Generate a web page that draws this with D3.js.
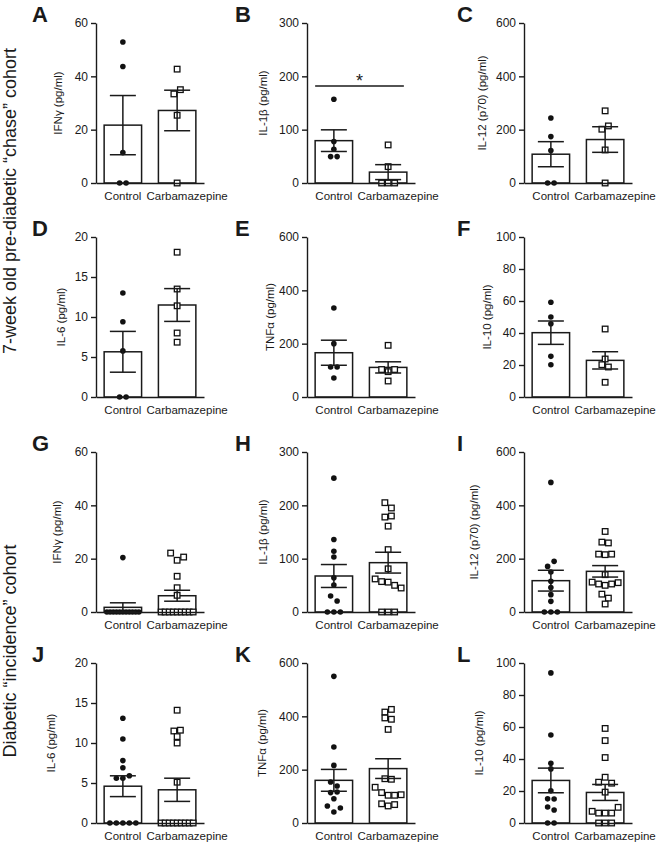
<!DOCTYPE html>
<html><head><meta charset="utf-8">
<script src="https://cdn.jsdelivr.net/npm/d3@7"></script>
<style>
body{margin:0;background:#fff}
svg{display:block}
text{font-family:"Liberation Sans",Arial,Helvetica,sans-serif;fill:#1a1a1a}
</style>
</head><body>
<svg id="chart" width="660" height="846"></svg>
<script>
// ---------------- DATA ----------------
const categories = ["Control", "Carbamazepine"];
const panelLetters = ["A","B","C","D","E","F","G","H","I","J","K","L"];
const yTitles = ["IFNγ (pg/ml)","IL-1β (pg/ml)","IL-12 (p70) (pg/ml)","IL-6 (pg/ml)","TNFα (pg/ml)","IL-10 (pg/ml)",
                 "IFNγ (pg/ml)","IL-1β (pg/ml)","IL-12 (p70) (pg/ml)","IL-6 (pg/ml)","TNFα (pg/ml)","IL-10 (pg/ml)"];
const yMaxes = [60,300,600,20,600,100, 60,300,600,20,600,100];
const yTickSteps = [20,100,200,5,200,20, 20,100,200,5,200,20];
const cohortLabels = ["7-week old pre-diabetic “chase” cohort", "Diabetic “incidence” cohort"];

const controlValues = [
  [52.9, 43.7, 11.4, 0, 0],
  [157, 77.7, 63.3, 49.5, 49.5],
  [244, 174, 121.5, 0, 0],
  [13, 9.4, 5.76, 0, 0],
  [333.75, 200, 112.5, 112.5, 71],
  [59.2, 50, 45.8, 25.4, 20.2],
  [20.4, 0,0,0,0,0,0,0,0,0,0,0],
  [251, 136, 103, 114, 64, 50.5, 30, 20.6, 0, 0, 0],
  [486, 171, 190, 150, 115, 92, 65, 40, 0, 0, 0],
  [13.1, 10.5, 7.8, 6.9, 5.6, 5.6, 5.9, 0,0,0,0,0],
  [550, 285, 216, 154, 139, 114, 116, 91, 64, 41, 56],
  [93.8, 55, 37.3, 33.8, 15.1, 15, 20.1, 10, 8.1, 0, 0]
];
const carbValues = [
  [42.7, 33.4, 35, 25.4, 0],
  [71.4, 30.7, 0, 0, 0],
  [270.6, 201.7, 214, 124, 0],
  [18.1, 13.5, 11.4, 8.0, 6.85],
  [193.75, 103, 95, 103, 60],
  [42.5, 23.75, 20.2, 18.75, 9.2],
  [22.1, 19.4, 20.6, 13.4, 9.1, 6.25, 0,0,0,0,0,0,0,0,0],
  [205, 195, 178, 180, 161, 117, 81, 62, 57, 56, 50, 45, 0, 0, 0],
  [302, 262, 259, 217, 215, 217, 140, 112, 105, 100, 105, 110, 67, 52, 30],
  [14.1, 11.5, 11.6, 10.8, 10.0, 5.1, 0,0,0,0,0,0,0,0,0],
  [416, 426, 394, 389, 351, 166, 164, 134, 114, 104, 104, 106, 72, 64, 69],
  [59.1, 51.5, 40.9, 25.5, 28.6, 24.9, 19.3, 7.3, 6.2, 6.2, 6.2, 9.8, 0, 0, 0]
];
const controlMeans = [21.7, 79.4, 108, 5.65, 166, 40.2, 1.75, 67.5, 117.5, 4.6, 160, 26.6];
const controlSEMs  = [11.1, 20.3, 47, 2.55, 47, 7.3, 1.7, 21.5, 39, 1.3, 41, 7.7];
const carbMeans    = [27.2, 20.4, 163, 11.5, 111, 22.9, 6.1, 92.5, 152.5, 4.15, 204, 19.1];
const carbSEMs     = [7.6, 14, 48, 2.05, 21, 5.4, 2.05, 19.5, 21.5, 1.45, 37, 5];
const sigPanelIndex = 1, sigLabel = "*", sigValue = 182;

// ---------------- LAYOUT ----------------
const colAxisX = [96, 307, 524];
const rowTop = [23, 237, 452, 663];
const letterX = [32, 235, 457];
const titleDx = [-38,-44,-42,-35,-37,-37,-39,-44,-50,-45,-45,-45];
const cohortPos = [[16, 201],[16, 651]];
const plotH = 160, plotW = 108;
const clusterGap = 5.5, maxSpread = 32, baseSpacing = 6.5;

const svg = d3.select("#chart");

// cohort labels
cohortPos.forEach((p,i)=>{
  svg.append("text")
    .attr("transform",`translate(${p[0]},${p[1]}) rotate(-90)`)
    .attr("text-anchor","middle")
    .style("font-size","18px")
    .text(cohortLabels[i]);
});

function layoutPoints(vals, y){
  // cluster points whose pixel y's are close; spread each cluster in a row
  const items = vals.map((v,i)=>({v, i, py: y(v)}));
  const sorted = items.slice().sort((a,b)=>a.py-b.py || a.i-b.i);
  const clusters = [];
  sorted.forEach(it=>{
    const last = clusters[clusters.length-1];
    if (last && it.py - last[last.length-1].py < clusterGap) last.push(it);
    else clusters.push([it]);
  });
  clusters.forEach(c=>{
    c.sort((a,b)=>a.i-b.i);
    const k = c.length;
    const sp = k>1 ? Math.min(baseSpacing, maxSpread/(k-1)) : 0;
    c.forEach((it,j)=>{ it.dx = (j-(k-1)/2)*sp; });
  });
  return items;
}

panelLetters.forEach((letter, p)=>{
  const row = Math.floor(p/3), col = p%3;
  const g = svg.append("g").attr("transform",`translate(${colAxisX[col]},${rowTop[row]})`);
  const y = d3.scaleLinear().domain([0, yMaxes[p]]).range([plotH, 0]);
  const x = d3.scaleBand().domain(categories).range([0, plotW]).paddingInner(0.31).paddingOuter(0.15);
  const bw = x.bandwidth();

  // panel letter
  svg.append("text").attr("x", letterX[col]).attr("y", rowTop[row]-1)
    .style("font-size","22px").style("font-weight","bold").text(letter);

  // y title
  g.append("text")
    .attr("transform",`translate(${titleDx[p]},${plotH/2}) rotate(-90)`)
    .attr("text-anchor","middle").attr("dy","0.35em")
    .style("font-size","11.5px").text(yTitles[p]);

  // bars
  const means = [controlMeans[p], carbMeans[p]];
  const sems = [controlSEMs[p], carbSEMs[p]];
  g.selectAll("rect.bar").data(categories).join("rect").attr("class","bar")
    .attr("x", d=>x(d)).attr("width", bw)
    .attr("y", (d,i)=>y(means[i])).attr("height",(d,i)=>plotH-y(means[i]))
    .attr("fill","#fff").attr("stroke","#1a1a1a").attr("stroke-width",1.5);

  // points
  const ctrl = layoutPoints(controlValues[p], y);
  const carb = layoutPoints(carbValues[p], y);
  const cx0 = x(categories[0]) + bw/2, cx1 = x(categories[1]) + bw/2;
  g.selectAll("circle.pt").data(ctrl).join("circle").attr("class","pt")
    .attr("cx", d=>cx0 + d.dx).attr("cy", d=>d.py).attr("r", 2.8).attr("fill","#111");
  const s = 5.6;
  g.selectAll("rect.pt").data(carb).join("rect").attr("class","pt")
    .attr("x", d=>cx1 + d.dx - s/2).attr("y", d=>d.py - s/2).attr("width", s).attr("height", s)
    .attr("fill","#fff").attr("stroke","#111").attr("stroke-width",1.3);

  // error bars
  const capW = 26;
  categories.forEach((c,i)=>{
    const cx = x(c)+bw/2;
    const hi = y(means[i]+sems[i]), lo = y(Math.max(0, means[i]-sems[i]));
    const eg = g.append("g").attr("stroke","#1a1a1a").attr("stroke-width",1.5);
    eg.append("line").attr("x1",cx).attr("x2",cx).attr("y1",hi).attr("y2",lo);
    eg.append("line").attr("x1",cx-capW/2).attr("x2",cx+capW/2).attr("y1",hi).attr("y2",hi);
    eg.append("line").attr("x1",cx-capW/2).attr("x2",cx+capW/2).attr("y1",lo).attr("y2",lo);
  });

  // axes
  const ticks = d3.range(0, yMaxes[p] + yTickSteps[p]/2, yTickSteps[p]);
  const ya = g.append("g").call(d3.axisLeft(y).tickValues(ticks).tickSize(5).tickSizeOuter(0).tickPadding(3));
  ya.selectAll("path,line").attr("stroke","#1a1a1a").attr("stroke-width",1.4);
  ya.selectAll("text").style("font-size","12px").style("font-family","'Liberation Sans',Arial,sans-serif").attr("fill","#1a1a1a");

  const xa = g.append("g").attr("transform",`translate(0,${plotH})`)
    .call(d3.axisBottom(x).tickSize(0).tickPadding(8.5));
  xa.select("path").attr("stroke","#1a1a1a").attr("stroke-width",1.4);
  xa.selectAll("text").style("font-size","11.5px").style("font-family","'Liberation Sans',Arial,sans-serif").attr("fill","#1a1a1a")
    .attr("dx", d=> d===categories[1] ? 10 : 0);

  // significance
  if (p === sigPanelIndex){
    const sy = y(sigValue);
    g.append("line").attr("x1", x(categories[0])).attr("x2", x(categories[1])+bw-3)
      .attr("y1", sy).attr("y2", sy).attr("stroke","#1a1a1a").attr("stroke-width",1.4);
    g.append("text").attr("x", (x(categories[0]) + x(categories[1])+bw-3)/2).attr("y", sy+1)
      .attr("text-anchor","middle").style("font-size","18px").text(sigLabel);
  }
});
</script>
</body></html>
